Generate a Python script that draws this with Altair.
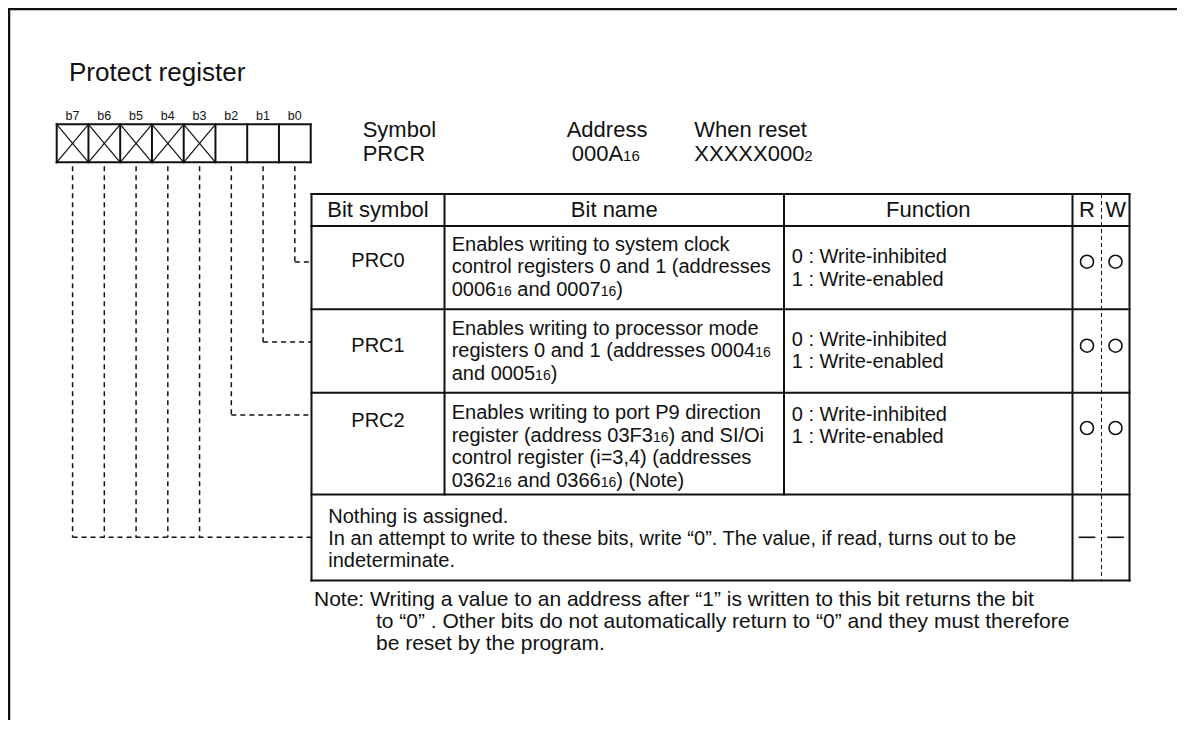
import re
import altair as alt
import pandas as pd

# ---------------- data (texts / categories) ----------------
title = "Protect register"
bits = ["b7", "b6", "b5", "b4", "b3", "b2", "b1", "b0"]
reserved = [True, True, True, True, True, False, False, False]
info_heads = ["Symbol", "Address", "When reset"]
info_vals = ["PRCR", "000A{16}", "XXXXX000{2}"]
header_cols = ["Bit symbol", "Bit name", "Function", "R", "W"]
bit_symbols = ["PRC0", "PRC1", "PRC2"]
bit_names = [
    ["Enables writing to system clock",
     "control registers 0 and 1 (addresses",
     "0006{16} and 0007{16})"],
    ["Enables writing to processor mode",
     "registers 0 and 1 (addresses 0004{16}",
     "and 0005{16})"],
    ["Enables writing to port P9 direction",
     "register (address 03F3{16}) and SI/Oi",
     "control register (i=3,4) (addresses",
     "0362{16} and 0366{16}) (Note)"],
]
functions = ["0 : Write-inhibited", "1 : Write-enabled"]
rw_access = [("o", "o"), ("o", "o"), ("o", "o"), ("-", "-")]
nothing_text = [
    "Nothing is assigned.",
    "In an attempt to write to these bits, write \u201c0\u201d. The value, if read, turns out to be",
    "indeterminate.",
]
note_lines = [
    "Note: Writing a value to an address after \u201c1\u201d is written to this bit returns the bit",
    "to \u201c0\u201d . Other bits do not automatically return to \u201c0\u201d and they must therefore",
    "be reset by the program.",
]

# ---------------- layout (reference pixel coordinates) ----------------
W, H = 1169, 712
OX, OY = 8, 8
FONT = "Liberation Sans"
INK = "#111111"

ARIAL = {' ': 278, '!': 278, '"': 355, '#': 556, '$': 556, '%': 889, '&': 667, "'": 191,
         '(': 333, ')': 333, '*': 389, '+': 584, ',': 278, '-': 333, '.': 278, '/': 278,
         ':': 278, ';': 278, '<': 584, '=': 584, '>': 584, '?': 556, '@': 1015,
         '\u201c': 333, '\u201d': 333}
for d in "0123456789":
    ARIAL[d] = 556
ARIAL.update(dict(zip("ABCDEFGHIJKLMNOPQRSTUVWXYZ",
                      [667, 667, 722, 722, 667, 611, 778, 722, 278, 500, 667, 556, 833,
                       722, 778, 667, 778, 722, 667, 611, 722, 667, 944, 667, 667, 611])))
ARIAL.update(dict(zip("abcdefghijklmnopqrstuvwxyz",
                      [556, 556, 500, 556, 556, 278, 556, 556, 222, 222, 500, 222, 833,
                       556, 556, 556, 556, 333, 500, 278, 556, 500, 722, 500, 500, 500])))


def twidth(s, fs):
    return sum(ARIAL.get(c, 556) for c in s) * fs / 1000.0


left_rows = []
center_rows = []


def add_runs(s, x, y, fs, sub_fs):
    cx = x
    for sub, main in re.findall(r"\{([^}]*)\}|([^{}]+)", s):
        t, f = (sub, sub_fs) if sub else (main, fs)
        st = t.lstrip(" ")
        cx += (len(t) - len(st)) * 278 * f / 1000.0
        if st:
            left_rows.append(dict(x=cx, y=y, text=st, size=f))
        cx += twidth(st, f)


solid = []   # thick solid lines
thin = []    # thin solid lines
dashed = []  # connector dashes
rwdash = []  # R/W divider


def seg(lst, x, y, x2, y2, w):
    lst.append(dict(x=x, y=y, x2=x2, y2=y2, w=w))


# outer frame
seg(solid, 9, 9, OX + W, 9, 2.5)
seg(solid, 9, 9, 9, OY + H, 2.5)

# title
add_runs(title, 69, 81, 26, 18)

# register boxes
RX0, CW, RT, RB = 56.7, 31.75, 124.3, 162.3
for i in range(9):
    seg(solid, RX0 + i * CW, RT, RX0 + i * CW, RB, 2)
seg(solid, RX0, RT, RX0 + 8 * CW, RT, 2)
seg(solid, RX0, RB, RX0 + 8 * CW, RB, 2)
for i, (b, r) in enumerate(zip(bits, reserved)):
    cx = RX0 + CW * (i + 0.5)
    center_rows.append(dict(x=cx, y=119.5, text=b, size=12.5))
    if r:
        seg(thin, RX0 + i * CW, RT, RX0 + (i + 1) * CW, RB, 1.2)
        seg(thin, RX0 + i * CW, RB, RX0 + (i + 1) * CW, RT, 1.2)

# symbol / address / reset
info_x_head = [362.7, 566.7, 694.3]
info_x_val = [362.7, 571.7, 694.3]
for h, v, xh, xv in zip(info_heads, info_vals, info_x_head, info_x_val):
    add_runs(h, xh, 136.7, 22, 15)
    add_runs(v, xv, 160.5, 22, 15)

# table grid
cols = [311.5, 444.5, 784, 1072.5, 1101.5, 1129.5]
rows = [194, 226, 309.3, 392.7, 494.5, 580.5]
for ry in rows:
    seg(solid, cols[0], ry, cols[-1], ry, 2)
for cx in [cols[0], cols[3], cols[5]]:
    seg(solid, cx, rows[0], cx, rows[-1], 2)
for cx in [cols[1], cols[2]]:
    seg(solid, cx, rows[0], cx, rows[4], 2)
seg(rwdash, cols[4], rows[0], cols[4], rows[-1], 1)

# header
col_pairs = [(cols[0], cols[1]), (cols[1], cols[2]), (cols[2], cols[3]),
             (cols[3], cols[4]), (cols[4], cols[5])]
for name, (a, b) in zip(header_cols, col_pairs):
    center_rows.append(dict(x=(a + b) / 2, y=216.7, text=name, size=22))

# bit rows
sym_base = [266.7, 351.7, 426.7]
name_base = [251, 335, 419.3]
func_base = [263.3, 345.7, 420.7]
mark_y = [261.7, 345.7, 428]
conn_y = [262, 342, 415]
LS = 22.4
circles = []
for k, sym in enumerate(bit_symbols):
    center_rows.append(dict(x=(cols[0] + cols[1]) / 2, y=sym_base[k], text=sym, size=20))
    for j, line in enumerate(bit_names[k]):
        add_runs(line, 451.7, name_base[k] + j * LS, 20, 14)
    for j, line in enumerate(functions):
        add_runs(line, 791.7, func_base[k] + j * 22.6, 20, 14)
    for a, c in zip(rw_access[k], [(cols[3] + cols[4]) / 2, (cols[4] + cols[5]) / 2]):
        if a == "o":
            circles.append(dict(x=c, y=mark_y[k]))

# nothing-assigned row
for j, line in enumerate(nothing_text):
    add_runs(line, 328.3, 523.3 + j * 21.7, 20, 14)
for a, c in zip(rw_access[3], [(cols[3] + cols[4]) / 2, (cols[4] + cols[5]) / 2]):
    if a == "-":
        seg(solid, c - 7.5, 537.3, c + 7.5, 537.3, 1.6)

# connectors from bits to rows
for i in range(8):
    bx = RX0 + CW * (i + 0.5)
    if i >= 5:
        ty = conn_y[7 - i]
    else:
        ty = 537.3
    seg(dashed, bx, RB + 4, bx, ty, 1.5)
    if i >= 5:
        seg(dashed, bx, ty, cols[0], ty, 1.5)
seg(dashed, RX0 + CW * 0.5, 537.3, cols[0], 537.3, 1.5)

# note
note_x = [314, 376, 376]
for j, line in enumerate(note_lines):
    add_runs(line, note_x[j], 606 + j * 22.2, 21, 14.5)

# ---------------- chart ----------------
xs = alt.X("x:Q", scale=alt.Scale(domain=[OX, OX + W], nice=False, zero=False), axis=None)
ys = alt.Y("y:Q", scale=alt.Scale(domain=[OY, OY + H], nice=False, zero=False, reverse=True), axis=None)


def rule_layer(lst, **kw):
    return alt.Chart(pd.DataFrame(lst)).mark_rule(color=INK, **kw).encode(
        x=xs, y=ys, x2="x2:Q", y2="y2:Q",
        strokeWidth=alt.StrokeWidth("w:Q", scale=None))


layers = [
    rule_layer(solid, strokeCap="square"),
    rule_layer(thin),
    rule_layer(dashed, strokeDash=[5, 4]),
    rule_layer(rwdash, strokeDash=[4, 3]),
    alt.Chart(pd.DataFrame(circles)).mark_point(
        shape="circle", filled=False, size=169, strokeWidth=1.6, color=INK, opacity=1
    ).encode(x=xs, y=ys),
    alt.Chart(pd.DataFrame(left_rows)).mark_text(
        align="left", baseline="alphabetic", font=FONT, color=INK
    ).encode(x=xs, y=ys, text="text:N", size=alt.Size("size:Q", scale=None)),
    alt.Chart(pd.DataFrame(center_rows)).mark_text(
        align="center", baseline="alphabetic", font=FONT, color=INK
    ).encode(x=xs, y=ys, text="text:N", size=alt.Size("size:Q", scale=None)),
]

chart = alt.layer(*layers).properties(
    width=W, height=H, padding=0,
    autosize=alt.AutoSizeParams(type="none"),
).configure_view(stroke=None).configure(background="white")

chart.save("out.html", embed_options={"renderer": "svg", "actions": False})
